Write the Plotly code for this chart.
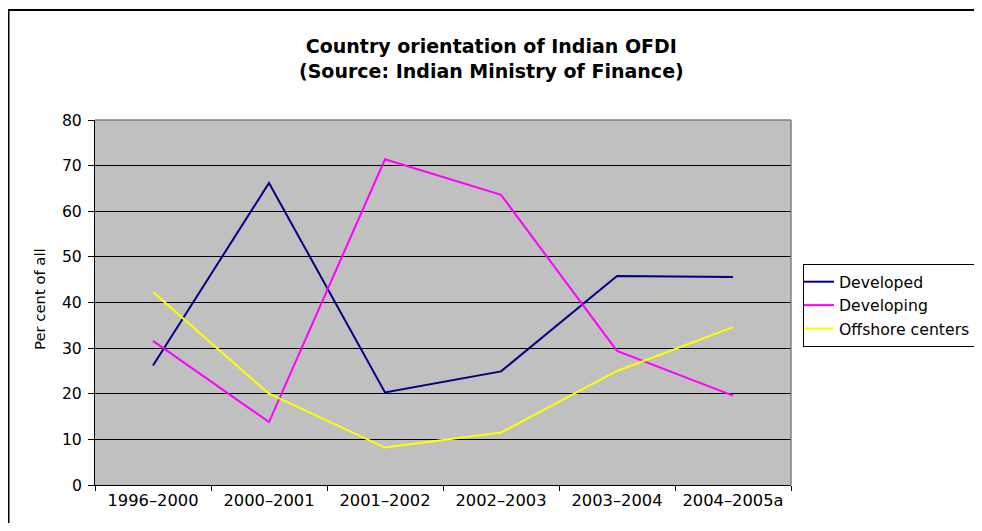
import plotly.graph_objects as go

categories = ["1996–2000", "2000–2001", "2001–2002", "2002–2003", "2003–2004", "2004–2005a"]
developed = [26.2, 66.2, 20.3, 24.9, 45.8, 45.6]
developing = [31.6, 13.8, 71.4, 63.6, 29.4, 19.6]
offshore = [42.3, 20.0, 8.2, 11.5, 25.0, 34.6]
y_ticks = [0, 10, 20, 30, 40, 50, 60, 70, 80]

FONT = "DejaVu Sans"

fig = go.Figure()
fig.add_trace(go.Scatter(x=categories, y=developed, name="Developed", mode="lines",
                         line=dict(color="#000080", width=2)))
fig.add_trace(go.Scatter(x=categories, y=developing, name="Developing", mode="lines",
                         line=dict(color="#FF00FF", width=2)))
fig.add_trace(go.Scatter(x=categories, y=offshore, name="Offshore centers", mode="lines",
                         line=dict(color="#FFFF00", width=2)))

# figure is sized to fit inside the page's 8px body margin
OFF = 8
W, H = 982 - 2 * OFF, 531 - 2 * OFF
L, R, T, B = 87, 183, 112, 38
pw = W - L - R
ph = H - T - B


def px_x(x):
    # viewport pixel -> paper coordinate
    return (x - OFF - L) / pw


def px_y(y):
    return (H - B - (y - OFF)) / ph


fig.update_layout(
    width=W, height=H,
    margin=dict(l=L, r=R, t=T, b=B, pad=0, autoexpand=False),
    paper_bgcolor="white",
    plot_bgcolor="#C0C0C0",
    font=dict(family=FONT, color="black"),
    showlegend=True,
    legend=dict(
        x=px_x(803), y=px_y(264), xanchor="left", yanchor="top",
        bordercolor="black", borderwidth=1, bgcolor="white",
        font=dict(family=FONT, size=15.7, color="black"),
        itemwidth=30, tracegroupgap=0, indentation=-5,
    ),
    xaxis=dict(
        type="category", categoryorder="array", categoryarray=categories,
        range=[-0.5, len(categories) - 0.5],
        tickson="boundaries", ticks="outside", ticklen=5, tickcolor="black",
        showline=True, linecolor="black", linewidth=1,
        showgrid=False, zeroline=False,
        tickfont=dict(family=FONT, size=16.3, color="black"),
        fixedrange=True,
    ),
    yaxis=dict(
        range=[0, 80], tickvals=y_ticks, ticks="outside", ticklen=6, tickcolor="black",
        showline=True, linecolor="black", linewidth=1,
        showgrid=True, gridcolor="black", gridwidth=1, zeroline=False,
        tickfont=dict(family=FONT, size=15.7, color="black"),
        ticklabelstandoff=3,
        fixedrange=True,
    ),
    shapes=[
        # outer chart border
        dict(type="rect", xref="paper", yref="paper",
             x0=px_x(8.5), x1=px_x(1010), y0=px_y(560), y1=px_y(10),
             line=dict(color="black", width=2), fillcolor="rgba(0,0,0,0)", layer="above"),
        # plot area top and right border
        dict(type="line", xref="paper", yref="paper", x0=0, x1=1, y0=1, y1=1,
             line=dict(color="#808080", width=1.5), layer="above"),
        dict(type="line", xref="paper", yref="paper", x0=1, x1=1, y0=0, y1=1,
             line=dict(color="#808080", width=1.5), layer="above"),
    ],
    annotations=[
        dict(text="<b>Country orientation of Indian OFDI<br>(Source: Indian Ministry of Finance)</b>",
             xref="paper", yref="paper", x=px_x(491), y=px_y(58),
             xanchor="center", yanchor="middle", showarrow=False,
             font=dict(family=FONT, size=19, color="black")),
        dict(text="Per cent of all", textangle=-90,
             xref="paper", yref="paper", x=px_x(39), y=px_y(299),
             xanchor="center", yanchor="middle", showarrow=False,
             font=dict(family=FONT, size=14.8, color="black")),
    ],
)

fig.write_html("out.html")
